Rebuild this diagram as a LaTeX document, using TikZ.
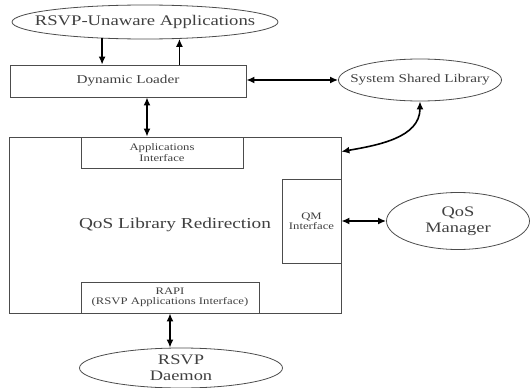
\documentclass[tikz,border=0pt]{standalone}
\usepackage{fontspec}
\setmainfont[FakeStretch=1.27]{Liberation Serif}
\usetikzlibrary{shapes.geometric,arrows.meta}

\begin{document}
\begin{tikzpicture}[x=1pt,y=-1pt,>={Latex[length=8pt,width=7pt]},
  box/.style={draw=black!70,line width=0.8pt,inner sep=0pt,text=black!75,align=center},
  oval/.style={ellipse,draw=black!70,line width=0.8pt,inner sep=0pt},
  lbl/.style={text=black!75,align=center,inner sep=0pt},
  small/.style={font=\fontsize{10}{10.5}\selectfont},
  link/.style={line width=1.6pt}]
\useasboundingbox (0,0) rectangle (531,388);

% applications, loader and shared library
\node[oval,minimum width=266,minimum height=34] (apps) at (145,22) {};
\node[lbl,font=\fontsize{14.7}{17}\selectfont] (apps-t) at (apps) {RSVP-Unaware Applications};
\node[box,minimum width=236,minimum height=32,font=\fontsize{12}{14}\selectfont] (loader) at (128,81) {Dynamic Loader};
\node[oval,minimum width=163,minimum height=42] (ssl) at (420,80) {};
\node[lbl,font=\fontsize{11.9}{14}\selectfont] (ssl-t) at (ssl) {System Shared Library};

% redirection library and its interfaces
\node[box,minimum width=332,minimum height=176,font=\fontsize{15.2}{18}\selectfont] (qlr) at (175,225) {QoS Library Redirection};
\node[box,small,minimum width=162,minimum height=31] (appif) at (162,152.5) {Applications\\Interface};
\node[box,small,minimum width=59,minimum height=84] (qmif) at (311.5,221) {QM\\Interface};
\node[box,small,minimum width=178,minimum height=31] (rapi) at (170,297.5) {RAPI\\(RSVP Applications Interface)};

\node[oval,minimum width=143,minimum height=57] (qosm) at (458,221) {};
\node[lbl,font=\fontsize{14.5}{16}\selectfont] (qosm-t) at (qosm) {QoS\\Manager};
\node[oval,minimum width=203,minimum height=40] (rsvpd) at (181,368) {};
\node[lbl,font=\fontsize{14.5}{16}\selectfont] (rsvpd-t) at (rsvpd) {RSVP\\Daemon};

% links
\draw[link,->] (apps.201.6) -- (apps.201.6 |- loader.north);
\draw[link,->] (apps.-26.6 |- loader.north) -- (apps.-26.6);
\coordinate (ldr-a) at ([xshift=19pt]loader.south);
\draw[link,<->] (ldr-a) -- (ldr-a |- qlr.north);
\draw[link,<->] (loader.east |- ssl.west) -- (ssl.west);
\coordinate (qlr-a) at ([yshift=-15pt]qlr.north east);
\draw[link,<->] (ssl.south) to[out=-90,in=10] (qlr-a);
\draw[link,<->] (qmif.east) -- (qosm.west);
\draw[link,<->] (rapi.south) -- (rapi.south |- rsvpd.north);
\end{tikzpicture}
\end{document}
